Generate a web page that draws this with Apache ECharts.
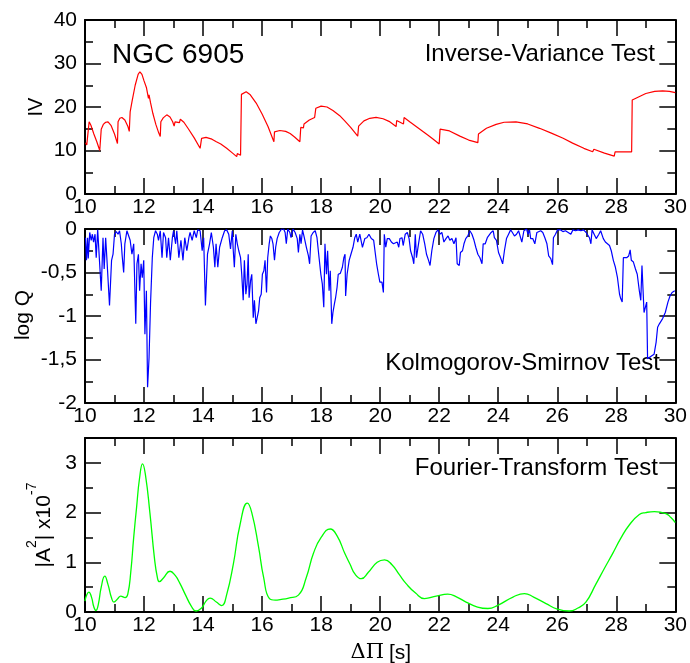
<!DOCTYPE html>
<html><head><meta charset="utf-8">
<script src="https://cdn.jsdelivr.net/npm/echarts@6/dist/echarts.min.js"></script>
<style>html,body{margin:0;padding:0;background:#fff}#c{width:690px;height:663px}</style>
</head><body><div id="c"></div>
<script>
// ---- data ----
const xRange = [10, 30];
const ivPoints = [
[10.02,11.8],[10.06,11.3],[10.11,11.0],[10.14,16.6],[10.2,15.8],[10.3,13.8],[10.4,12.0],[10.5,10.0],[10.53,9.7],
[10.55,14.9],[10.62,16.0],[10.7,16.5],[10.78,16.6],[10.88,15.8],[11.0,13.8],[11.1,11.6],
[11.12,16.6],[11.18,17.4],[11.25,17.6],[11.35,17.0],[11.45,15.6],[11.5,14.4],
[11.53,18.9],[11.6,21.5],[11.7,25.0],[11.8,27.5],[11.86,28.1],[11.93,27.5],[12.0,26.0],[12.08,24.5],[12.15,22.0],[12.17,22.8],[12.22,21.0],[12.3,18.5],[12.4,16.0],[12.5,14.0],[12.55,13.2],
[12.57,16.6],[12.65,17.5],[12.77,18.2],[12.88,17.7],[12.97,16.6],[13.02,15.6],[13.05,16.6],[13.2,16.4],[13.23,17.2],[13.35,16.5],[13.5,15.0],[13.7,12.9],[13.9,10.5],
[13.95,12.8],[14.1,13.0],[14.3,12.6],[14.45,12.0],[14.47,12.2],[14.6,11.5],[14.8,10.5],[15.0,9.4],[15.14,8.6],[15.16,9.3],[15.27,8.9],
[15.3,22.9],[15.46,23.5],[15.6,22.8],[15.8,20.9],[16.0,18.4],[16.2,15.5],[16.4,12.0],
[16.42,14.3],[16.6,14.6],[16.8,14.4],[16.95,13.9],[17.1,13.1],[17.28,12.0],
[17.31,15.3],[17.4,15.2],[17.42,16.1],[17.6,17.0],[17.78,17.6],
[17.82,19.7],[18.0,20.2],[18.2,20.0],[18.4,19.2],[18.63,18.0],[18.8,16.8],[19.0,15.3],[19.24,13.3],
[19.27,15.6],[19.45,16.8],[19.65,17.4],[19.86,17.6],[20.1,17.3],[20.3,16.7],[20.54,15.5],[20.56,16.9],[20.79,16.1],[20.81,17.6],
[21.0,16.6],[21.3,15.1],[21.6,13.6],[21.8,12.6],[22.0,11.5],
[22.03,14.9],[22.35,14.5],[22.7,13.3],[23.0,12.4],[23.31,11.8],
[23.33,13.8],[23.6,15.1],[23.93,16.0],[24.2,16.5],[24.6,16.6],[25.0,16.1],[25.4,15.1],[25.8,14.0],[26.2,12.8],[26.52,11.7],[26.9,10.5],[27.2,9.7],[27.24,10.3],[27.6,9.4],[27.93,8.7],
[27.96,9.7],[28.52,9.7],[28.54,21.6],[29.0,23.1],[29.3,23.6],[29.57,23.7],[29.8,23.6],[30.0,23.3]
];
const ksPoints = [
[10.02,-0.10],[10.05,-0.36],[10.09,-0.10],[10.11,-0.34],[10.16,-0.04],[10.21,-0.13],[10.25,-0.06],[10.29,-0.15],[10.34,-0.06],[10.38,-0.33],[10.43,-0.01],[10.47,-0.01],[10.55,-0.71],[10.61,-0.10],[10.65,-0.46],[10.70,-0.10],[10.74,-0.33],[10.83,-0.88],[10.90,-0.36],[10.95,-0.29],[11.00,-0.06],[11.06,-0.03],[11.12,-0.06],[11.17,-0.02],[11.23,-0.17],[11.26,-0.31],[11.31,-0.50],[11.35,-0.17],[11.42,-0.02],[11.48,-0.01],[11.53,-0.13],[11.59,-0.29],[11.65,-0.17],[11.72,-1.09],[11.76,-0.40],[11.81,-0.29],[11.85,-0.71],[11.90,-0.40],[11.94,-0.56],[11.99,-0.36],[12.03,-1.21],[12.08,-0.71],[12.12,-1.82],[12.17,-1.48],[12.22,-0.86],[12.28,-0.33],[12.33,-0.10],[12.39,-0.02],[12.45,-0.06],[12.49,-0.13],[12.55,-0.02],[12.61,-0.33],[12.66,-0.04],[12.73,-0.10],[12.77,-0.33],[12.83,-0.10],[12.89,-0.36],[12.96,-0.10],[13.00,-0.02],[13.07,-0.17],[13.11,-0.02],[13.18,-0.33],[13.25,-0.13],[13.32,-0.36],[13.38,-0.10],[13.45,-0.25],[13.52,-0.10],[13.56,-0.04],[13.63,-0.13],[13.70,-0.02],[13.77,-0.10],[13.82,-0.01],[13.90,-0.02],[13.97,-0.25],[14.02,-0.10],[14.08,-0.88],[14.15,-0.29],[14.22,-0.17],[14.28,-0.04],[14.35,-0.21],[14.40,-0.44],[14.44,-0.17],[14.50,-0.44],[14.56,-0.21],[14.65,-0.10],[14.73,-0.02],[14.80,-0.01],[14.87,-0.06],[14.93,-0.23],[14.99,-0.02],
[15.02,-0.23],[15.06,-0.44],[15.11,-0.06],[15.16,-0.17],[15.21,-0.25],[15.27,-0.33],[15.31,-0.52],[15.36,-0.82],[15.40,-0.36],[15.45,-0.75],[15.49,-0.63],[15.53,-0.29],[15.56,-0.79],[15.61,-0.59],[15.65,-0.52],[15.70,-1.02],[15.74,-0.82],[15.79,-1.09],[15.83,-1.07],[15.88,-0.94],[15.92,-0.79],[15.97,-0.75],[16.01,-0.52],[16.06,-0.48],[16.10,-0.36],[16.15,-0.73],[16.19,-0.33],[16.24,-0.17],[16.28,-0.08],[16.33,-0.11],[16.37,-0.17],[16.42,-0.36],[16.46,-0.21],[16.51,-0.11],[16.58,-0.04],[16.66,0],[16.73,0],[16.78,-0.04],[16.82,-0.17],[16.87,0],[16.94,-0.04],[16.98,-0.10],[17.05,0],[17.12,-0.04],[17.19,-0.11],[17.23,-0.27],[17.28,-0.06],[17.32,-0.17],[17.37,-0.01],[17.43,-0.10],[17.50,-0.21],[17.57,-0.31],[17.61,-0.40],[17.66,-0.08],[17.73,-0.04],[17.80,-0.02],[17.86,-0.10],[17.93,-0.33],[17.99,-0.52],[18.04,-0.63],[18.09,-0.90],[18.13,-0.17],[18.18,-0.52],[18.22,-0.25],[18.27,-0.71],[18.31,-0.48],[18.36,-1.09],[18.40,-0.96],[18.45,-0.86],[18.49,-0.79],[18.54,-0.67],[18.58,-0.52],[18.65,-0.51],[18.72,-0.44],[18.77,-0.33],[18.81,-0.29],[18.83,-0.77],[18.88,-0.52],[18.95,-0.36],[19.01,-0.29],[19.08,-0.21],[19.14,-0.10],[19.19,-0.06],[19.24,-0.15],[19.31,-0.06],[19.36,-0.06],[19.40,-0.21],[19.48,-0.11],[19.55,-0.10],[19.62,-0.06],[19.70,-0.11],[19.78,-0.13],
[19.88,-0.40],[19.94,-0.52],[19.99,-0.61],[20.06,-0.61],[20.11,-0.73],[20.14,-0.06],[20.19,-0.21],[20.24,-0.11],[20.31,-0.11],[20.38,-0.15],[20.45,-0.17],[20.51,-0.19],[20.58,-0.15],[20.63,-0.21],[20.67,-0.11],[20.74,-0.10],[20.78,-0.19],[20.85,-0.06],[20.92,-0.04],[20.98,-0.11],[21.03,-0.25],[21.10,-0.33],[21.14,-0.40],[21.19,-0.06],[21.23,-0.33],[21.30,-0.17],[21.37,-0.02],[21.44,-0.06],[21.51,-0.17],[21.57,-0.29],[21.64,-0.36],[21.69,-0.42],[21.75,-0.25],[21.82,-0.11],[21.89,-0.04],[21.96,-0.01],[22.02,-0.06],[22.09,-0.04],[22.16,-0.15],[22.23,-0.11],[22.30,-0.08],[22.36,-0.13],[22.43,-0.11],[22.50,-0.17],[22.57,-0.10],[22.61,-0.40],[22.68,-0.42],[22.72,-0.27],[22.79,-0.25],[22.84,-0.17],[22.90,-0.11],[22.97,-0.08],[23.04,-0.02],[23.11,-0.06],[23.18,-0.13],[23.24,-0.21],[23.31,-0.29],[23.38,-0.33],[23.45,-0.40],[23.49,-0.17],[23.56,-0.17],[23.63,-0.10],[23.69,-0.11],[23.76,-0.04],[23.83,-0.02],[23.87,-0.10],[23.94,-0.13],[24.01,-0.27],[24.08,-0.33],[24.15,-0.40],[24.21,-0.25],[24.28,-0.11],[24.35,-0.06],[24.42,-0.01],[24.48,-0.04],[24.55,-0.08],[24.62,-0.06],[24.69,-0.02],[24.75,-0.04],[24.80,-0.15],[24.87,-0.02],[24.96,0],
[25.01,-0.06],[25.06,-0.01],[25.10,-0.11],[25.17,-0.11],[25.24,-0.17],[25.31,-0.04],[25.37,-0.06],[25.44,-0.02],[25.51,-0.04],[25.58,-0.10],[25.65,-0.17],[25.71,-0.31],[25.78,-0.34],[25.84,-0.41],[25.87,-0.10],[25.94,-0.06],[26.01,-0.01],[26.10,-0.01],[26.19,-0.03],[26.28,-0.02],[26.37,-0.04],[26.46,-0.06],[26.53,-0.01],[26.62,-0.02],[26.71,-0.01],[26.80,-0.02],[26.89,-0.01],[26.98,-0.04],[27.04,-0.02],[27.09,-0.10],[27.14,-0.17],[27.18,-0.01],[27.25,-0.06],[27.32,-0.11],[27.36,-0.13],[27.41,-0.06],[27.47,-0.02],[27.52,-0.04],[27.56,-0.11],[27.63,-0.15],[27.70,-0.17],[27.77,-0.19],[27.83,-0.25],[27.90,-0.36],[27.97,-0.44],[28.04,-0.56],[28.11,-0.75],[28.15,-0.80],[28.20,-0.84],[28.24,-0.33],[28.29,-0.34],[28.35,-0.33],[28.42,-0.31],[28.47,-0.24],[28.51,-0.36],[28.58,-0.38],[28.65,-0.46],[28.71,-0.52],[28.78,-0.71],[28.83,-0.82],[28.87,-0.42],[28.92,-0.42],[28.94,-0.96],[28.98,-0.97],[29.03,-0.84],[29.06,-1.49],[29.12,-1.48],[29.19,-1.46],[29.28,-1.44],[29.35,-1.30],[29.40,-1.13],[29.46,-1.09],[29.52,-1.09],[29.57,-1.03],[29.62,-1.02],[29.66,-0.96],[29.71,-0.94],[29.75,-0.84],[29.82,-0.77],[29.89,-0.73],[29.98,-0.71]
];
const ftPoints = [
[10.0,0.22],[10.05,0.33],[10.13,0.40],[10.22,0.30],[10.3,0.10],[10.37,0.03],[10.45,0.15],[10.55,0.50],[10.67,0.72],[10.78,0.55],[10.9,0.28],[10.98,0.20],[11.1,0.26],[11.21,0.32],[11.36,0.29],[11.45,0.36],[11.55,0.80],[11.65,1.50],[11.75,2.12],[11.85,2.70],[11.95,2.98],[12.05,2.75],[12.2,1.99],[12.35,1.10],[12.45,0.70],[12.52,0.61],[12.65,0.68],[12.88,0.82],[13.05,0.74],[13.22,0.57],[13.4,0.35],[13.6,0.12],[13.76,0.02],[13.95,0.08],[14.1,0.22],[14.24,0.28],[14.45,0.20],[14.63,0.13],[14.8,0.35],[15.03,0.98],[15.25,1.75],[15.5,2.19],[15.65,2.0],[15.88,1.31],[16.05,0.70],[16.25,0.27],[16.45,0.24],[16.61,0.25],[16.9,0.28],[17.23,0.34],[17.5,0.70],[17.74,1.18],[18.0,1.50],[18.31,1.67],[18.55,1.52],[18.8,1.18],[18.98,0.96],[19.15,0.76],[19.36,0.67],[19.6,0.80],[19.9,1.00],[20.15,1.05],[20.4,0.95],[20.65,0.75],[20.88,0.57],[21.2,0.38],[21.5,0.27],[21.9,0.32],[22.29,0.36],[22.6,0.30],[22.91,0.20],[23.3,0.10],[23.65,0.07],[24.0,0.14],[24.5,0.30],[24.89,0.37],[25.2,0.30],[25.62,0.17],[26.0,0.06],[26.41,0.02],[26.7,0.08],[26.97,0.20],[27.3,0.55],[27.6,0.88],[27.88,1.18],[28.15,1.48],[28.44,1.75],[28.78,1.96],[29.0,2.0],[29.29,2.02],[29.68,1.98],[29.85,1.90],[30.0,1.80]
];
const ivRange = [0, 40, 10];
const ksRange = [-2, 0, 0.5];
const ftRange = [0, 3.5, 1];
const panelTitles = ['Inverse-Variance Test', 'Kolmogorov-Smirnov Test', 'Fourier-Transform Test'];
const objectName = 'NGC 6905';

// ---- layout ----
const FONT = 'Liberation Sans';
const L = 85, W = 591, H = 174;
const tops = [20, 229, 438];
const black = '#000';

function xAx(g, pos, lbl) {
  return {
    type: 'value', gridIndex: g, position: pos, min: xRange[0], max: xRange[1], interval: 2,
    axisLine: { show: true, onZero: false, lineStyle: { color: black, width: 2 } },
    axisTick: { show: true, inside: true, length: 16, lineStyle: { color: black, width: 1.5 } },
    minorTick: { show: true, splitNumber: 2, length: 8, lineStyle: { color: black, width: 1.5 } },
    splitLine: { show: false },
    axisLabel: { show: lbl, color: black, fontSize: 21, fontFamily: FONT, margin: 3 }
  };
}
function yAx(g, pos, r, lbl, opts) {
  opts = opts || {};
  return {
    type: 'value', gridIndex: g, position: pos, min: r[0], max: r[1], interval: opts.interval || r[2],
    axisLine: { show: opts.line !== false, onZero: false, lineStyle: { color: black, width: 2 } },
    axisTick: { show: true, inside: true, length: opts.tickLen || 16, lineStyle: { color: black, width: 1.5 } },
    minorTick: { show: opts.minor !== false, splitNumber: 2, length: 8, lineStyle: { color: black, width: 1.5 } },
    splitLine: { show: false },
    axisLabel: { show: lbl, color: black, fontSize: 21, fontFamily: FONT, margin: 8,
      showMaxLabel: opts.showMax !== false,
      formatter: v => String(v).replace('.', ',') }
  };
}

const option = {
  animation: false,
  backgroundColor: '#fff',
  grid: tops.map(t => ({ left: L, top: t, width: W, height: H, containLabel: false })),
  xAxis: [
    xAx(0, 'bottom', true), xAx(0, 'top', false),
    xAx(1, 'bottom', true), xAx(1, 'top', false),
    xAx(2, 'bottom', true), xAx(2, 'top', false)
  ],
  yAxis: [
    yAx(0, 'left', ivRange, true), yAx(0, 'right', ivRange, false),
    yAx(1, 'left', ksRange, true), yAx(1, 'right', ksRange, false),
    yAx(2, 'left', ftRange, true, { minor: false, showMax: false }),
    yAx(2, 'right', ftRange, false, { minor: false }),
    yAx(2, 'left', ftRange, false, { minor: false, line: false, interval: 0.5, tickLen: 8 }),
    yAx(2, 'right', ftRange, false, { minor: false, line: false, interval: 0.5, tickLen: 8 })
  ],
  series: [
    { type: 'line', xAxisIndex: 0, yAxisIndex: 0, data: ivPoints, showSymbol: false, symbol: 'none',
      lineStyle: { color: '#ff0000', width: 1.2 }, clip: true },
    { type: 'line', xAxisIndex: 2, yAxisIndex: 2, data: ksPoints, showSymbol: false, symbol: 'none',
      lineStyle: { color: '#0000ff', width: 1.2 }, clip: true },
    { type: 'line', xAxisIndex: 4, yAxisIndex: 4, data: ftPoints, showSymbol: false, symbol: 'none',
      smooth: 0.5,
      lineStyle: { color: '#00ff00', width: 1.3 }, clip: true }
  ],
  graphic: [
    { type: 'text', x: 112, y: 55, style: { text: objectName, fill: black, font: '28px "Liberation Sans"', align: 'left', verticalAlign: 'middle' } },
    { type: 'text', x: 655, y: 54, style: { text: panelTitles[0], fill: black, font: '24px "Liberation Sans"', align: 'right', verticalAlign: 'middle' } },
    { type: 'text', x: 660, y: 363, style: { text: panelTitles[1], fill: black, font: '24px "Liberation Sans"', align: 'right', verticalAlign: 'middle' } },
    { type: 'text', x: 658, y: 468, style: { text: panelTitles[2], fill: black, font: '24px "Liberation Sans"', align: 'right', verticalAlign: 'middle' } },
    { type: 'text', x: 36, y: 107, rotation: Math.PI / 2, style: { text: 'IV', fill: black, font: '20px "Liberation Sans"', align: 'center', verticalAlign: 'middle' } },
    { type: 'text', x: 23, y: 315, rotation: Math.PI / 2, style: { text: 'log Q', fill: black, font: '21px "Liberation Sans"', align: 'center', verticalAlign: 'middle' } },
    { type: 'text', x: 44, y: 525, rotation: Math.PI / 2, style: {
        text: '|A{s|2}| x10{s|-7}', fill: black, font: '21px "Liberation Sans"', lineHeight: 38,
        align: 'center', verticalAlign: 'middle',
        rich: { s: { font: '14px "Liberation Sans"', fill: black, verticalAlign: 'top', lineHeight: 14 } } } },
    { type: 'text', x: 384, y: 653, style: { text: 'ΔΠ', fill: black, font: '21px "DejaVu Serif"', align: 'right', verticalAlign: 'middle' } },
    { type: 'text', x: 389, y: 653, style: { text: '[s]', fill: black, font: '21px "Liberation Sans"', align: 'left', verticalAlign: 'middle' } }
  ]
};
echarts.init(document.getElementById('c')).setOption(option);
</script></body></html>
